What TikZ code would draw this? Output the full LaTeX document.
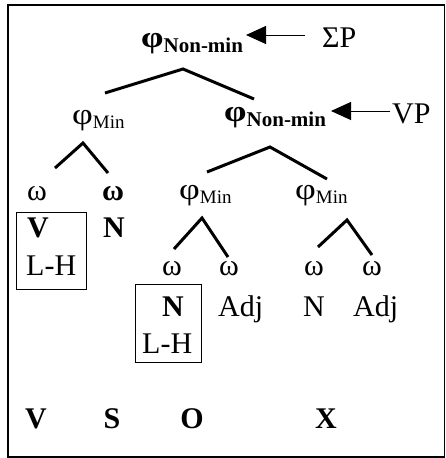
\documentclass[tikz,border=0pt]{standalone}
\usepackage{fontspec}
\setmainfont{Liberation Serif}
\usetikzlibrary{arrows.meta}
\newcommand{\bigfont}{\fontsize{30}{30}\selectfont}
\newcommand{\wphi}{\scalebox{1.2}[1]{φ}}
\newcommand{\wphibf}{\scalebox{1.2}[1]{\textbf{φ}}}
\newcommand{\subMin}{\raisebox{-4pt}{\fontsize{19}{19}\selectfont Min}}
\newcommand{\subNonmin}{\raisebox{-5pt}{\fontsize{21}{21}\selectfont\bfseries Non-min}}
\begin{document}
\begin{tikzpicture}[x=1pt,y=-1pt,
  txt/.style={inner sep=0pt, font=\bigfont, anchor=base west},
  ctxt/.style={inner sep=0pt, font=\bigfont, anchor=base},
  branch/.style={line width=3pt},
  label arrow/.style={line width=1pt, -{Triangle[length=20pt,width=18pt]}},
  tonebox/.style={draw, line width=1pt, inner sep=0pt, anchor=north west}]
\useasboundingbox (0,0) rectangle (446,458);
% outer frame
\draw[line width=1.5pt] (8,5) rectangle (444.5,457);

% sentence level phrase
\node[txt] (sig) at (141,47) {\wphibf\subNonmin};
\node[txt] (sigP) at (322,47) {ΣP};
\coordinate (sigtail) at (305,35);
\coordinate (sigtip) at (246,35);
\draw[label arrow] (sigtail) -- (sigtip);
\coordinate (b0l) at (105,93);
\coordinate (b0a) at (183,69);
\coordinate (b0r) at (254,99);
\draw[branch] (b0l) -- (b0a) -- (b0r);

% left minimal phrase
\node[txt] (pl) at (72,124) {\wphi\subMin};
\coordinate (b1l) at (55,168);
\coordinate (b1a) at (83,143);
\coordinate (b1r) at (108,173);
\draw[branch] (b1l) -- (b1a) -- (b1r);
\node[txt] (wv) at (27,200) {ω};
\node[txt] (ws) at (102,200) {\textbf{ω}};
\node[tonebox, minimum width=70pt, minimum height=77pt] (vbox) at (16,212) {};
\node[txt] (v) at (27,237) {\textbf{V}};
\node[txt] (vt) at (26,275) {L-H};
\node[txt] (n1) at (103,237) {\textbf{N}};

% verb phrase
\node[txt] (vp) at (224,121) {\wphibf\subNonmin};
\node[txt] (vpl) at (392,123) {VP};
\coordinate (vptail) at (390,111);
\coordinate (vptip) at (331,111);
\draw[label arrow] (vptail) -- (vptip);
\coordinate (b2l) at (207,172);
\coordinate (b2a) at (270,147);
\coordinate (b2r) at (327,179);
\draw[branch] (b2l) -- (b2a) -- (b2r);

% object phrase
\node[txt] (pm) at (179,199) {\wphi\subMin};
\coordinate (b3l) at (174,249);
\coordinate (b3a) at (202,218);
\coordinate (b3r) at (228,257);
\draw[branch] (b3l) -- (b3a) -- (b3r);
\node[ctxt] (wo1) at (172,275) {ω};
\node[ctxt] (wo2) at (229,275) {ω};
\node[tonebox, minimum width=66pt, minimum height=78pt] (nbox) at (135,284) {};
\node[txt] (n2) at (162,316) {\textbf{N}};
\node[txt] (nt) at (142,353) {L-H};
\node[txt] (adj1) at (218,316) {Adj};

% oblique phrase
\node[txt] (pr) at (295,199) {\wphi\subMin};
\coordinate (b4l) at (318,247);
\coordinate (b4a) at (347,220);
\coordinate (b4r) at (372,255);
\draw[branch] (b4l) -- (b4a) -- (b4r);
\node[ctxt] (wx1) at (314,275) {ω};
\node[ctxt] (wx2) at (372,275) {ω};
\node[txt] (n3) at (303,316) {N};
\node[txt] (adj2) at (353,316) {Adj};

% word order
\node[ctxt] (ov) at (36,428) {\textbf{V}};
\node[ctxt] (os) at (112,428) {\textbf{S}};
\node[ctxt] (oo) at (192,428) {\textbf{O}};
\node[ctxt] (ox) at (326,428) {\textbf{X}};
\end{tikzpicture}
\end{document}
